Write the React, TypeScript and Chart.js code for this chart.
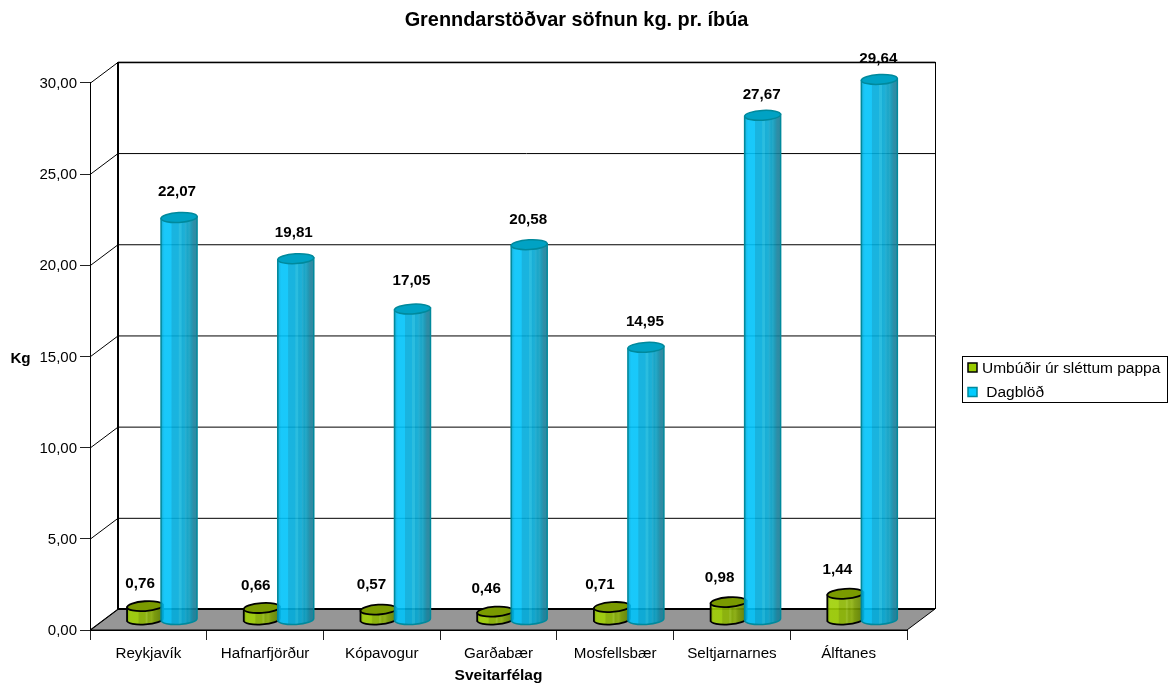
import React, { useEffect, useRef } from "react";
import { Chart, registerables } from "chart.js";

Chart.register(...registerables);

const categories = ["Reykjavík", "Hafnarfjörður", "Kópavogur", "Garðabær", "Mosfellsbær", "Seltjarnarnes", "Álftanes"];
const umbudir = [0.76, 0.66, 0.57, 0.46, 0.71, 0.98, 1.44];
const dagblod = [22.07, 19.81, 17.05, 20.58, 14.95, 27.67, 29.64];
const seriesNames = ["Umbúðir úr sléttum pappa", " Dagblöð"];
const titleText = "Grenndarstöðvar söfnun kg. pr. íbúa";
const yTitle = "Kg";
const xTitle = "Sveitarfélag";

const FONT = '"Liberation Sans", Arial, sans-serif';
const comma = (v: number) => v.toFixed(2).replace(".", ",");

// label nudges around the cylinder tops (dx, dy), per series
const labelDx = [[-5, -6, -7, -9, -12, -9, -8], [-2, -2, -1, -1, -1, -1, -1]];
const labelDy = [[-22.4, -22.3, -24.8, -22.8, -22.3, -24.4, -24.3], [-25.8, -26.3, -27.8, -24.8, -25.8, -20.8, -20.8]];

const DX = 28;
const DY = 21;
const BAR_DX = 12.7;
const BAR_DY = 10;
const RY = 4.9;

const blueStops: [number, string][] = [
  [0, "#0098bc"], [0.05, "#00b8ec"], [0.1, "#00c3fa"], [0.28, "#00c3fa"], [0.3, "#00acdc"],
  [0.48, "#00acdc"], [0.5, "#14b6dc"], [0.56, "#14b6dc"], [0.58, "#00a6d2"], [0.66, "#06a8d2"],
  [0.68, "#12a6cc"], [0.74, "#009cc2"], [0.78, "#0ea0c2"], [0.84, "#0890b0"], [0.9, "#17829e"], [1, "#1a7c96"],
];
const greenStops: [number, string][] = [
  [0, "#80a800"], [0.08, "#9fd003"], [0.3, "#9fd003"], [0.34, "#8bb500"], [0.5, "#8bb500"],
  [0.54, "#9ac21c"], [0.6, "#82aa00"], [0.68, "#8eb20c"], [0.76, "#789c00"], [0.86, "#6d8f00"], [1, "#5a7e00"],
];

const threeD = {
  id: "threeD",
  beforeDraw(chart: any) {
    // the title is centred a little off the canvas centre
    chart.titleBlock.left = 0;
    chart.titleBlock.right = 1153;
  },
  beforeDatasetsDraw(chart: any) {
    const { ctx, chartArea: a, scales } = chart;
    const y = scales.y;
    ctx.save();
    // floor
    ctx.beginPath();
    ctx.moveTo(a.left, a.bottom);
    ctx.lineTo(a.left + DX, a.bottom - DY);
    ctx.lineTo(a.right + DX, a.bottom - DY);
    ctx.lineTo(a.right, a.bottom);
    ctx.closePath();
    ctx.fillStyle = "#969696";
    ctx.fill();
    ctx.strokeStyle = "#000";
    ctx.lineWidth = 1;
    ctx.stroke();
    // grid on back and side walls
    for (const t of y.ticks) {
      const py = y.getPixelForValue(t.value);
      ctx.lineWidth = 1;
      ctx.beginPath();
      ctx.moveTo(a.left, py + 0.5);
      ctx.lineTo(a.left + DX, py - DY + 0.5);
      if (t.value > 0) ctx.lineTo(a.right + DX, py - DY + 0.5);
      ctx.stroke();
    }
    const topY = a.top - DY;
    ctx.lineWidth = 1;
    ctx.beginPath();
    ctx.moveTo(a.right + DX + 0.5, topY);
    ctx.lineTo(a.right + DX + 0.5, a.bottom - DY);
    ctx.stroke();
    ctx.lineWidth = 2;
    ctx.beginPath();
    ctx.moveTo(a.left + DX, a.bottom - DY);
    ctx.lineTo(a.left + DX, topY);
    ctx.moveTo(a.left + DX, a.bottom - DY);
    ctx.lineTo(a.right + DX, a.bottom - DY);
    ctx.stroke();
    ctx.lineWidth = 1.5;
    ctx.beginPath();
    ctx.moveTo(a.left + DX, topY + 0.5);
    ctx.lineTo(a.right + DX, topY + 0.5);
    ctx.stroke();

    // cylinders, from the bars' own geometry
    const metas = [chart.getDatasetMeta(0), chart.getDatasetMeta(1)];
    const styles = [
      { stops: greenStops, top: "#7a9a00", line: "#000000", shift: 2, tilt: -0.07, lw: 1.8 },
      { stops: blueStops, top: "#00a2c4", line: "#00899c", shift: 0, tilt: -0.055, lw: 1.5 },
    ];
    categories.forEach((_, i) => {
      metas.forEach((meta, s) => {
        const el = meta.data[i];
        const st = styles[s];
        const cx = el.x + BAR_DX + st.shift;
        const rx = el.width / 2;
        const base = el.base - BAR_DY;
        const top = el.y - BAR_DY;
        const rise = rx * Math.sin(-st.tilt);
        const g = ctx.createLinearGradient(cx - rx, 0, cx + rx, 0);
        st.stops.forEach(([o, c]) => g.addColorStop(o, c));
        ctx.beginPath();
        ctx.moveTo(cx - rx, top + rise);
        ctx.lineTo(cx - rx, base + rise);
        ctx.ellipse(cx, base, rx, RY, st.tilt, Math.PI, 0, true);
        ctx.lineTo(cx + rx, top - rise);
        ctx.closePath();
        ctx.globalAlpha = 0.9;
        ctx.fillStyle = g;
        ctx.fill();
        ctx.globalAlpha = 1;
        ctx.strokeStyle = st.line;
        ctx.lineWidth = st.lw;
        ctx.stroke();
        ctx.beginPath();
        ctx.ellipse(cx, top, rx, RY, st.tilt, 0, Math.PI * 2);
        ctx.fillStyle = st.top;
        ctx.fill();
        ctx.stroke();
      });
    });
    ctx.restore();
    return false; // cylinders replace the flat bars
  },
  afterDraw(chart: any) {
    const { ctx, chartArea: a } = chart;
    ctx.save();
    // value labels
    ctx.font = `bold 15.2px ${FONT}`;
    ctx.fillStyle = "#000";
    ctx.textAlign = "center";
    ctx.textBaseline = "middle";
    [0, 1].forEach((s) => {
      const meta = chart.getDatasetMeta(s);
      const shift = s === 0 ? 2 : 0;
      chart.data.datasets[s].data.forEach((v: number, i: number) => {
        const el = meta.data[i];
        ctx.fillText(comma(v), el.x + BAR_DX + shift + labelDx[s][i], el.y - BAR_DY + labelDy[s][i]);
      });
    });
    // horizontal y title
    ctx.textAlign = "center";
    ctx.fillText(yTitle, 20.5, (a.top + a.bottom) / 2 + 2.5);
    // legend
    ctx.strokeStyle = "#000";
    ctx.lineWidth = 1;
    ctx.strokeRect(962.5, 356.5, 205, 46);
    ctx.font = `15.5px ${FONT}`;
    ctx.textAlign = "left";
    const rows = [367.5, 392];
    chart.data.datasets.forEach((d: any, s: number) => {
      const yy = rows[s];
      ctx.fillStyle = d.backgroundColor;
      ctx.strokeStyle = d.borderColor;
      ctx.lineWidth = 1.5;
      ctx.fillRect(968, yy - 4.5, 9, 9);
      ctx.strokeRect(968, yy - 4.5, 9, 9);
      ctx.fillStyle = "#000";
      ctx.fillText(d.label, 982, yy + 1);
    });
    ctx.restore();
  },
};

export default function App() {
  const ref = useRef<HTMLCanvasElement>(null);
  useEffect(() => {
    const chart = new Chart(ref.current as HTMLCanvasElement, {
      type: "bar",
      data: {
        labels: categories,
        datasets: [
          { label: seriesNames[0], data: umbudir, backgroundColor: "#99cc00", borderColor: "#000000", categoryPercentage: 0.617, barPercentage: 1 },
          { label: seriesNames[1], data: dagblod, backgroundColor: "#00ccff", borderColor: "#00899c", categoryPercentage: 0.617, barPercentage: 1 },
        ],
      },
      options: {
        responsive: false,
        animation: false,
        layout: { padding: { right: 261, left: 0, top: 0, bottom: 0 } },
        plugins: {
          legend: { display: false },
          tooltip: { enabled: false },
          title: {
            display: true,
            text: titleText,
            color: "#000",
            font: { family: FONT, size: 19.9, weight: "bold", lineHeight: 1.2 },
            padding: { top: 9, bottom: 50 },
          },
        },
        scales: {
          x: {
            afterFit: (s: any) => { s.height = 57; },
            grid: { drawOnChartArea: false, color: "#222", tickLength: 10 },
            border: { color: "#000" },
            ticks: { color: "#000", font: { family: FONT, size: 15.2 }, maxRotation: 0, autoSkip: false, padding: 5 },
            title: { display: true, text: xTitle, color: "#000", font: { family: FONT, size: 15.5, weight: "bold" }, padding: { top: 2, bottom: 2 } },
          },
          y: {
            min: 0,
            max: 30,
            afterFit: (s: any) => { s.width = 90; },
            grid: { drawOnChartArea: false, color: "#222", tickLength: 10 },
            border: { color: "#000" },
            ticks: { color: "#000", font: { family: FONT, size: 15 }, stepSize: 5, padding: 3, labelOffset: 1, callback: (v: any) => comma(Number(v)) },
          },
        },
      },
      plugins: [threeD],
    } as any);
    return () => chart.destroy();
  }, []);
  return (
    <div style={{ position: "fixed", left: 0, top: 0, width: 1168, height: 687, background: "#fff" }}>
      <canvas ref={ref} width={1168} height={687} style={{ display: "block" }} />
    </div>
  );
}
